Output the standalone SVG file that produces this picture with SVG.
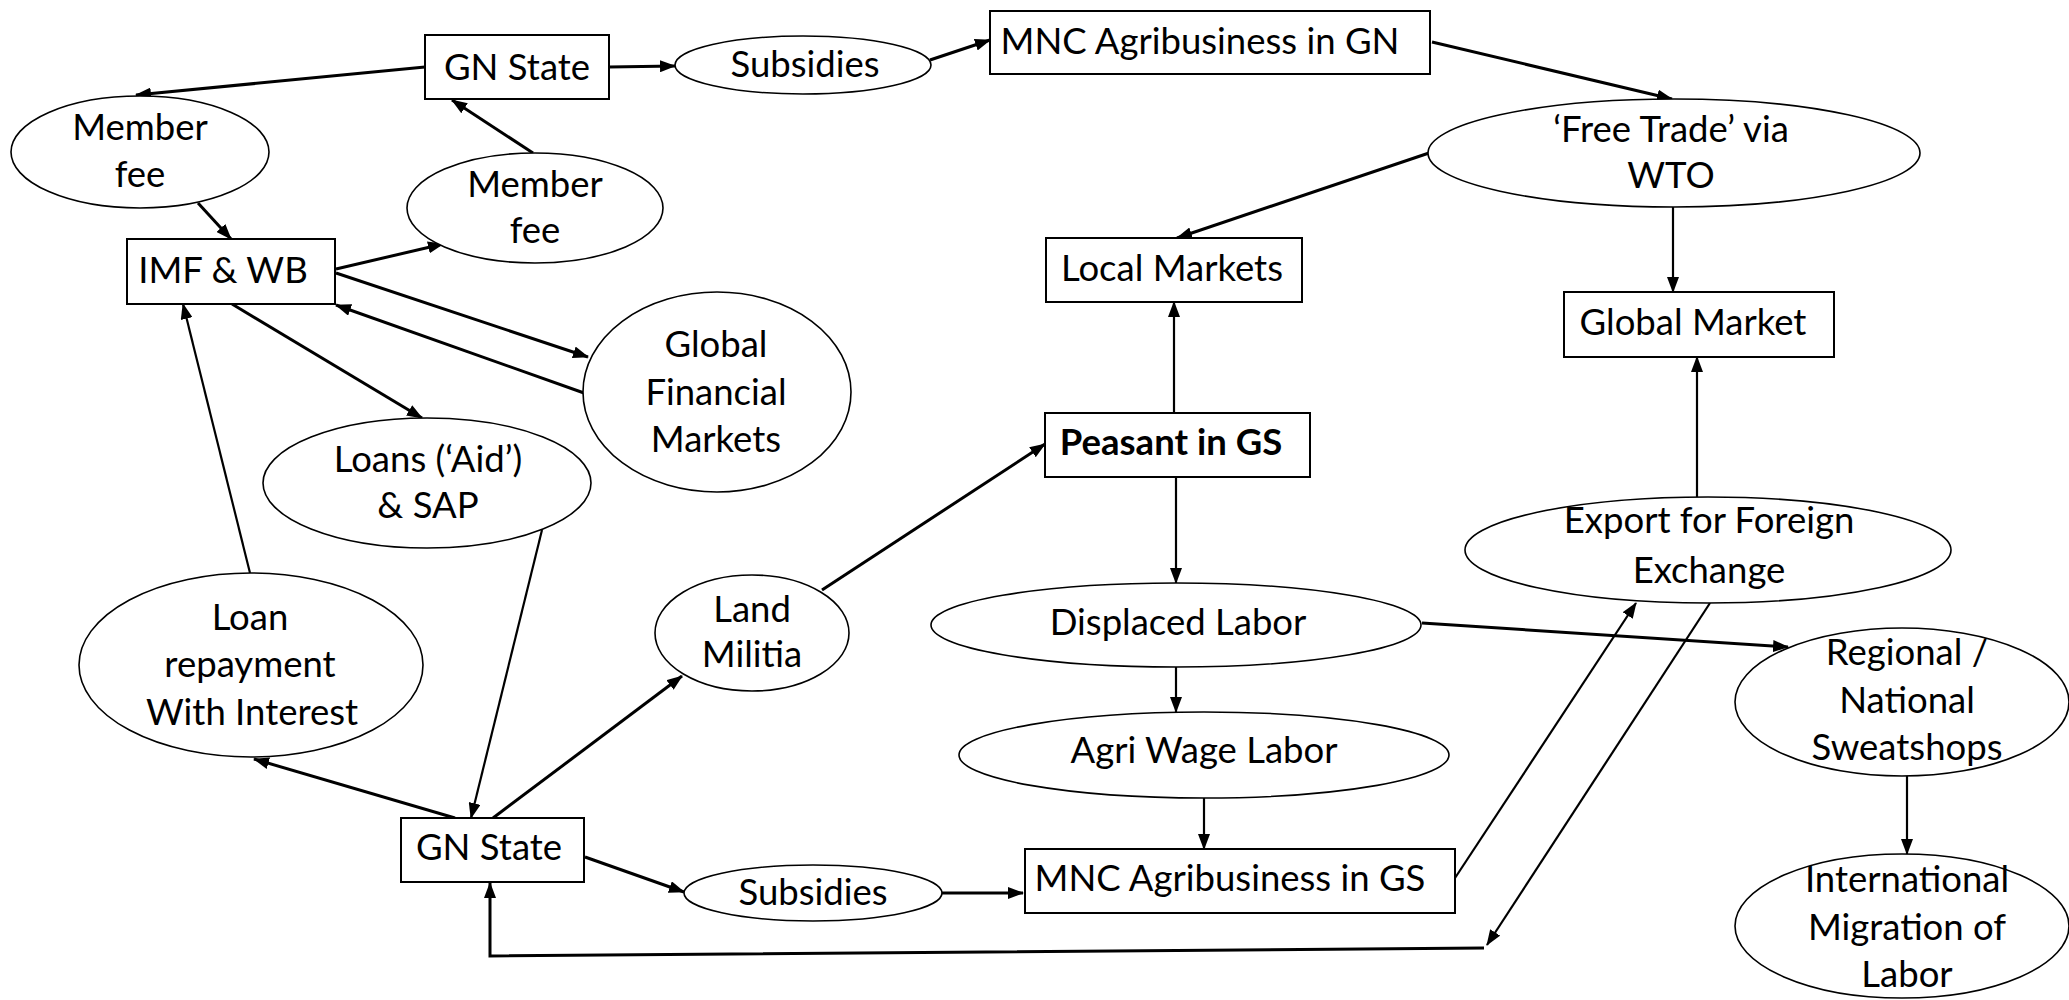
<svg xmlns="http://www.w3.org/2000/svg" width="2069" height="1000" viewBox="0 0 2069 1000">
  <defs>
    <style>
      .box { fill: #fff; stroke: #000; stroke-width: 2; }
      .oval { fill: #fff; stroke: #000; stroke-width: 1.6; }
      text { font-family: Lato, "Liberation Sans", sans-serif; font-size: 36.5px; fill: #000; text-anchor: middle; }
      .bold { font-weight: bold; }
      .thick { stroke: #000; stroke-width: 3; fill: none; marker-end: url(#ah); }
      .thin { stroke: #000; stroke-width: 2.2; fill: none; marker-end: url(#ah); }
    </style>
    <marker id="ah" markerUnits="userSpaceOnUse" markerWidth="16" markerHeight="12" refX="15" refY="6" orient="auto" viewBox="0 0 16 12">
      <path d="M0,0 L16,6 L0,12 z" fill="#000"/>
    </marker>
  </defs>
  <rect width="2069" height="1000" fill="#fff"/>

  <!-- connectors -->
  <g id="connectors">
    <path class="thick" d="M425,67 L136,95"/>
    <path class="thick" d="M609,67 L675,66"/>
    <path class="thick" d="M930,60 L990,40"/>
    <path class="thick" d="M1432,42 L1672,99"/>
    <path class="thick" d="M1429,153 L1177,238"/>
    <path class="thin" d="M1673,207 L1673,292"/>
    <path class="thick" d="M198,203 L231,239"/>
    <path class="thick" d="M533,153 L452,100"/>
    <path class="thick" d="M336,269 L443,244"/>
    <path class="thick" d="M336,273 L588,357"/>
    <path class="thick" d="M584,393 L336,305"/>
    <path class="thick" d="M232,304 L422,418"/>
    <path class="thin" d="M250,573 L183,304"/>
    <path class="thin" d="M542,530 L471,818"/>
    <path class="thick" d="M455,818 L254,759"/>
    <path class="thick" d="M493,818 L682,676"/>
    <path class="thick" d="M822,590 L1045,444"/>
    <path class="thin" d="M1174,413 L1174,302"/>
    <path class="thin" d="M1176,477 L1176,583"/>
    <path class="thin" d="M1176,667 L1176,712"/>
    <path class="thick" d="M1422,623 L1788,647"/>
    <path class="thin" d="M1204,798 L1204,849"/>
    <path class="thick" d="M585,857 L684,892"/>
    <path class="thick" d="M942,893 L1023,893"/>
    <path class="thin" d="M1455,878 L1636,603"/>
    <path class="thin" d="M1710,603 L1487,945"/>
    <path class="thick" d="M1484,948 L490,956 L490,883"/>
    <path class="thin" d="M1697,497 L1697,357"/>
    <path class="thin" d="M1907,776 L1907,854"/>
  </g>

  <!-- nodes -->
  <g id="gn-state-top">
    <rect class="box" x="425" y="35" width="184" height="64"/>
    <text x="517" y="80">GN State</text>
  </g>
  <g id="subsidies-top">
    <ellipse class="oval" cx="803" cy="65" rx="128" ry="29"/>
    <text x="805" y="77">Subsidies</text>
  </g>
  <g id="mnc-gn">
    <rect class="box" x="990" y="11" width="440" height="63"/>
    <text x="1200" y="54">MNC Agribusiness in GN</text>
  </g>
  <g id="free-trade">
    <ellipse class="oval" cx="1674" cy="153" rx="246" ry="54"/>
    <text x="1671" y="142">&#8216;Free Trade&#8217; via</text>
    <text x="1671" y="188">WTO</text>
  </g>
  <g id="member-fee-left">
    <ellipse class="oval" cx="140" cy="152" rx="129" ry="56"/>
    <text x="140" y="140">Member</text>
    <text x="140" y="187">fee</text>
  </g>
  <g id="member-fee-right">
    <ellipse class="oval" cx="535" cy="208" rx="128" ry="55"/>
    <text x="535" y="197">Member</text>
    <text x="535" y="243">fee</text>
  </g>
  <g id="imf-wb">
    <rect class="box" x="127" y="239" width="208" height="65"/>
    <text x="223" y="283">IMF &amp; WB</text>
  </g>
  <g id="global-financial-markets">
    <ellipse class="oval" cx="717" cy="392" rx="134" ry="100"/>
    <text x="716" y="357">Global</text>
    <text x="716" y="405">Financial</text>
    <text x="716" y="452">Markets</text>
  </g>
  <g id="local-markets">
    <rect class="box" x="1046" y="238" width="256" height="64"/>
    <text x="1172" y="281">Local Markets</text>
  </g>
  <g id="global-market">
    <rect class="box" x="1564" y="292" width="270" height="65"/>
    <text x="1693" y="335">Global Market</text>
  </g>
  <g id="loans-sap">
    <ellipse class="oval" cx="427" cy="483" rx="164" ry="65"/>
    <text x="428" y="472">Loans (&#8216;Aid&#8217;)</text>
    <text x="428" y="518">&amp; SAP</text>
  </g>
  <g id="peasant-gs">
    <rect class="box" x="1045" y="413" width="265" height="64"/>
    <text class="bold" x="1171" y="455">Peasant in GS</text>
  </g>
  <g id="export-fx">
    <ellipse class="oval" cx="1708" cy="550" rx="243" ry="53"/>
    <text x="1709" y="533">Export for Foreign</text>
    <text x="1709" y="583">Exchange</text>
  </g>
  <g id="loan-repayment">
    <ellipse class="oval" cx="251" cy="665" rx="172" ry="92"/>
    <text x="250" y="630">Loan</text>
    <text x="250" y="677">repayment</text>
    <text x="252" y="725">With Interest</text>
  </g>
  <g id="land-militia">
    <ellipse class="oval" cx="752" cy="633" rx="97" ry="58"/>
    <text x="752" y="622">Land</text>
    <text x="752" y="667">Militia</text>
  </g>
  <g id="displaced-labor">
    <ellipse class="oval" cx="1176" cy="625" rx="245" ry="42"/>
    <text x="1178" y="635">Displaced Labor</text>
  </g>
  <g id="agri-wage-labor">
    <ellipse class="oval" cx="1204" cy="755" rx="245" ry="43"/>
    <text x="1204" y="763">Agri Wage Labor</text>
  </g>
  <g id="regional-sweatshops">
    <ellipse class="oval" cx="1902" cy="702" rx="167" ry="74"/>
    <text x="1907" y="665">Regional /</text>
    <text x="1907" y="713">National</text>
    <text x="1907" y="760">Sweatshops</text>
  </g>
  <g id="gn-state-bottom">
    <rect class="box" x="401" y="818" width="183" height="64"/>
    <text x="489" y="860">GN State</text>
  </g>
  <g id="subsidies-bottom">
    <ellipse class="oval" cx="813" cy="893" rx="129" ry="28"/>
    <text x="813" y="905">Subsidies</text>
  </g>
  <g id="mnc-gs">
    <rect class="box" x="1025" y="849" width="430" height="64"/>
    <text x="1230" y="891">MNC Agribusiness in GS</text>
  </g>
  <g id="international-migration">
    <ellipse class="oval" cx="1902" cy="926" rx="167" ry="72"/>
    <text x="1907" y="892">International</text>
    <text x="1907" y="940">Migration of</text>
    <text x="1907" y="987">Labor</text>
  </g>
</svg>
